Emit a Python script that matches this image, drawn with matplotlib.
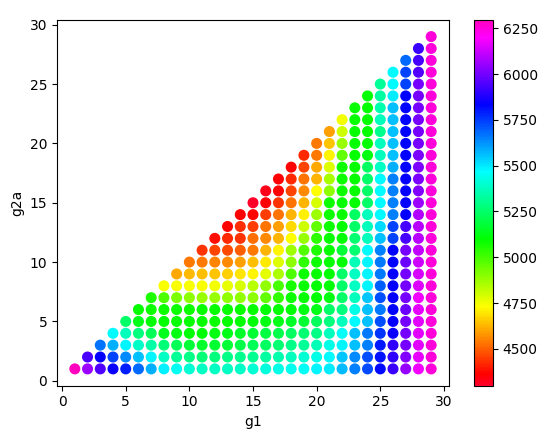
import matplotlib
matplotlib.use("Agg")
import matplotlib.pyplot as plt
import numpy as np

# values per g2a row, g1 runs from g2a up to 29
r01 = [6295, 6060, 5950, 5850, 5790, 5680, 5580, 5490, 5450, 5400, 5380, 5380, 5380, 5390, 5400,
       5420, 5430, 5440, 5460, 5480, 5500, 5570, 5650, 5730, 5820, 5920, 6050, 6180, 6250]
r02 = [5940, 5840, 5740, 5640, 5560, 5480, 5380, 5320, 5290, 5270, 5280, 5290, 5300, 5310, 5330,
       5350, 5370, 5400, 5430, 5470, 5550, 5640, 5720, 5810, 5900, 6020, 6170, 6250]
r03 = [5670, 5580, 5480, 5390, 5340, 5270, 5220, 5180, 5160, 5170, 5180, 5200, 5220, 5240, 5260,
       5290, 5320, 5360, 5430, 5480, 5560, 5650, 5800, 5900, 6000, 6160, 6250]
r04 = [5470, 5370, 5280, 5220, 5140, 5120, 5110, 5110, 5120, 5130, 5150, 5170, 5190, 5210, 5240,
       5260, 5290, 5370, 5460, 5560, 5660, 5760, 5850, 6000, 6160, 6250]
r05 = [5250, 5130, 5110, 5100, 5090, 5090, 5090, 5090, 5100, 5100, 5110, 5120, 5130, 5150, 5170,
       5230, 5280, 5370, 5470, 5560, 5720, 5840, 6000, 6160, 6250]
r06 = [5090, 5080, 5080, 5080, 5080, 5090, 5090, 5090, 5090, 5090, 5100, 5100, 5110, 5120, 5130,
       5250, 5280, 5430, 5560, 5660, 5830, 5990, 6170, 6250]
r07 = [5060, 4990, 4920, 4900, 4880, 4880, 4890, 4890, 4900, 4960, 5030, 5080, 5090, 5100, 5120,
       5250, 5370, 5550, 5720, 5840, 6000, 6180, 6250]
r08 = [4740, 4740, 4740, 4740, 4750, 4760, 4790, 4830, 4890, 5000, 5070, 5090, 5100, 5110, 5250,
       5380, 5480, 5700, 5840, 6000, 6150, 6250]
r09 = [4610, 4630, 4640, 4650, 4660, 4690, 4720, 4770, 4850, 4990, 5080, 5090, 5100, 5250, 5380,
       5480, 5660, 5840, 6000, 6140, 6250]
r10 = [4540, 4540, 4550, 4560, 4590, 4640, 4700, 4780, 4900, 5040, 5080, 5090, 5100, 5360, 5480,
       5660, 5830, 5990, 6130, 6250]
r11 = [4440, 4460, 4470, 4500, 4540, 4620, 4720, 4870, 4980, 5060, 5090, 5180, 5260, 5470, 5650,
       5830, 6000, 6110, 6250]
r12 = [4380, 4420, 4440, 4520, 4560, 4620, 4730, 4880, 5040, 5090, 5100, 5260, 5370, 5560, 5740,
       5930, 6100, 6250]
r13 = [4370, 4430, 4450, 4530, 4590, 4680, 4800, 4960, 5080, 5100, 5250, 5370, 5520, 5740, 5930,
       6100, 6250]
r14 = [4360, 4370, 4450, 4530, 4620, 4710, 4870, 5080, 5090, 5240, 5370, 5470, 5650, 5840, 6090, 6250]
r15 = [4300, 4360, 4440, 4530, 4620, 4790, 5080, 5090, 5100, 5250, 5470, 5650, 5840, 6060, 6250]
r16 = [4330, 4360, 4460, 4560, 4730, 4900, 5080, 5090, 5250, 5470, 5650, 5840, 6020, 6250]
r17 = [4360, 4420, 4530, 4620, 4860, 5080, 5090, 5250, 5470, 5650, 5840, 6010, 6250]
r18 = [4360, 4460, 4610, 4780, 5080, 5090, 5240, 5380, 5580, 5840, 6010, 6250]
r19 = [4420, 4540, 4720, 4960, 5090, 5120, 5370, 5560, 5830, 6010, 6250]
r20 = [4540, 4650, 4880, 5090, 5100, 5370, 5560, 5830, 6000, 6250]
r21 = [4590, 4800, 5090, 5100, 5300, 5560, 5830, 6000, 6250]
r22 = [4750, 5090, 5100, 5370, 5560, 5830, 6000, 6250]
r23 = [5090, 5100, 5350, 5560, 5830, 6000, 6250]
r24 = [5100, 5330, 5500, 5830, 6000, 6250]
r25 = [5320, 5470, 5740, 6000, 6250]
r26 = [5470, 5740, 5950, 6250]
r27 = [5680, 5930, 6250]
r28 = [5920, 6250]
r29 = [6250]

rows = [r01, r02, r03, r04, r05, r06, r07, r08, r09, r10, r11, r12, r13, r14, r15,
        r16, r17, r18, r19, r20, r21, r22, r23, r24, r25, r26, r27, r28, r29]
g1_max = 29

g1, g2a, val = [], [], []
for k, row in enumerate(rows):
    y = k + 1
    for j, v in enumerate(row):
        g1.append(y + j)
        g2a.append(y)
        val.append(v)

fig = plt.figure(figsize=(5.5, 4.38), dpi=100)
ax = fig.add_axes([57 / 550, 52.5 / 438, 392 / 550, 365.5 / 438])
cax = fig.add_axes([474 / 550, 52.5 / 438, 19 / 550, 365.5 / 438])

sc = ax.scatter(g1, g2a, c=val, cmap="gist_rainbow", s=48)
ax.set_xlabel("g1")
ax.set_ylabel("g2a")
ax.set_xticks([0, 5, 10, 15, 20, 25, 30])
ax.set_yticks([0, 5, 10, 15, 20, 25, 30])
fig.colorbar(sc, cax=cax)

plt.savefig("out.png")
plt.close(fig)
